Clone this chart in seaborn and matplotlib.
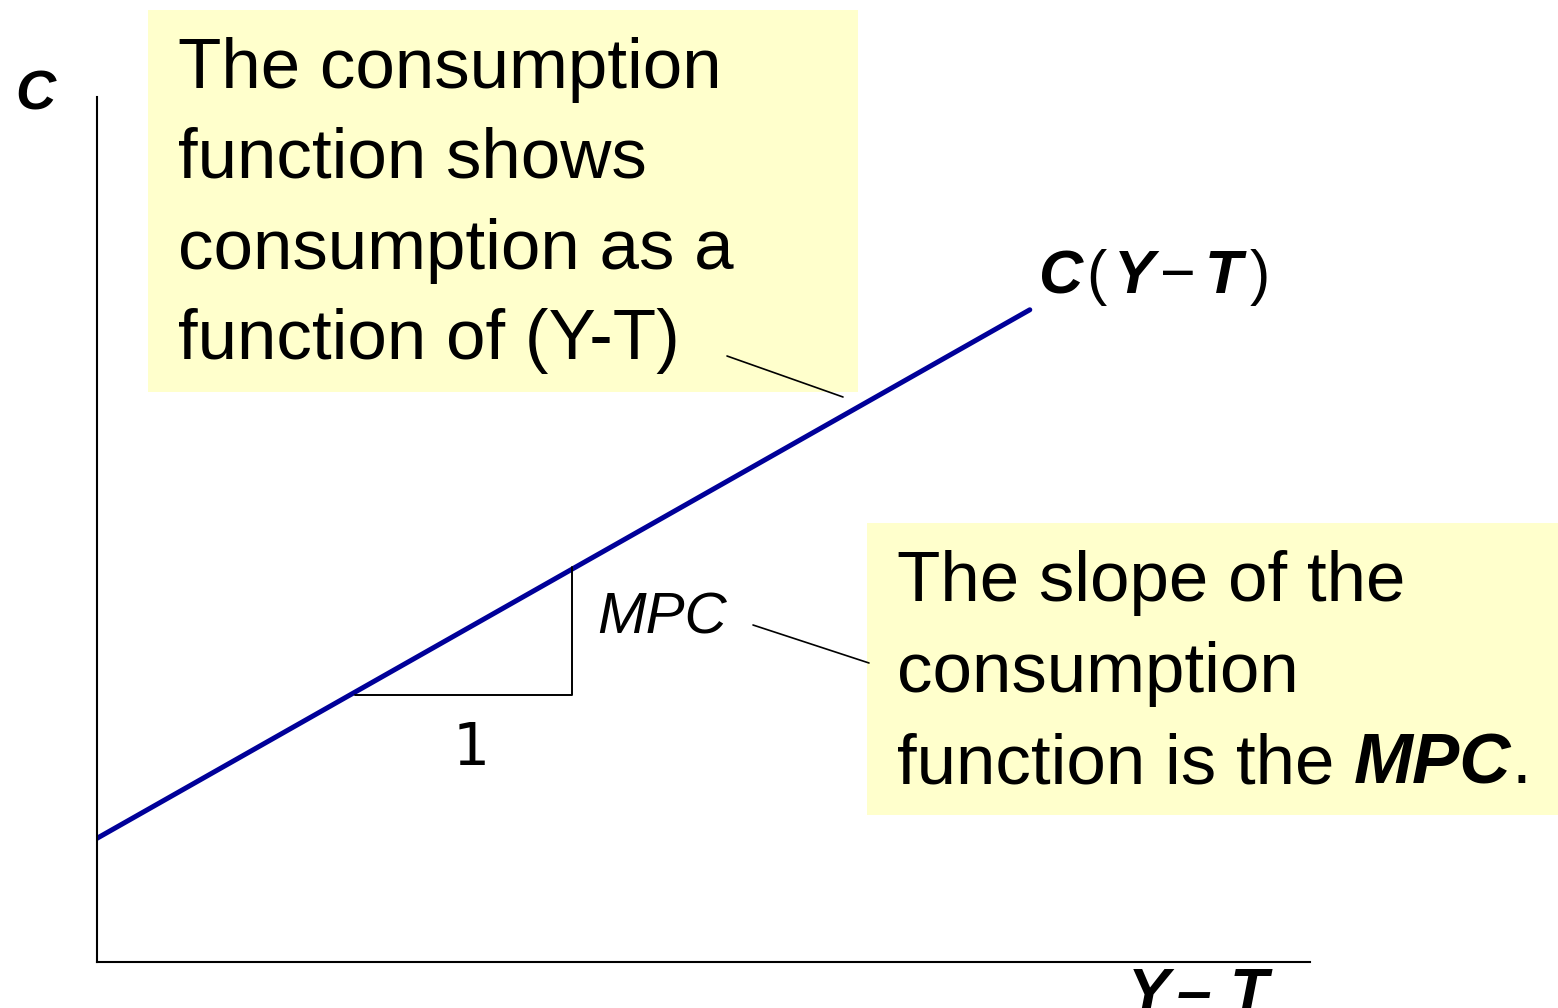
import numpy as np
import pandas as pd
import matplotlib
matplotlib.use("Agg")
import matplotlib.pyplot as plt
from matplotlib.patches import Rectangle
from matplotlib.lines import Line2D
import seaborn as sns

# Consumption function C(Y-T): two end points
disposable_income = [0.0, 7.69]
consumption = [1.43, 7.54]

# MPC triangle (run of 1, rise of MPC)
tri_x = [2.13, 3.92, 3.92]
tri_y = [3.09, 3.09, 4.57]

box1_lines = ["The consumption", "function shows", "consumption as a", "function of (Y-T)"]
box2_lines = ["The slope of the", "consumption", "function is the "]

W, H = 1558, 1008


def fx(x):
    return x / W


def fy(y):
    return 1 - y / H


sns.set_style("white")
plt.rcParams["font.family"] = ["Liberation Sans", "DejaVu Sans"]
plt.rcParams["text.color"] = "black"

fig = plt.figure(figsize=(W / 100, H / 100), dpi=100)
ax = fig.add_axes([fx(97), fy(962), (1310 - 97) / W, (962 - 97) / H])

df = pd.DataFrame({"yd": disposable_income, "c": consumption})
sns.lineplot(data=df, x="yd", y="c", ax=ax, color="#000099", linewidth=3.6)
ax.plot(tri_x, tri_y, color="black", linewidth=1.4)

ax.set_xlim(0, 10)
ax.set_ylim(0, 10)
ax.set_xticks([])
ax.set_yticks([])
ax.set_xlabel("")
ax.set_ylabel("")
for s in ["top", "right"]:
    ax.spines[s].set_visible(False)
for s in ["left", "bottom"]:
    ax.spines[s].set_color("black")
    ax.spines[s].set_linewidth(1.5)

# yellow callout boxes
fig.patches.append(Rectangle((fx(148), fy(392)), (858 - 148) / W, (392 - 10) / H,
                             transform=fig.transFigure, facecolor="#FFFFCC",
                             edgecolor="none", zorder=0))
fig.patches.append(Rectangle((fx(867), fy(815)), (1558 - 867) / W, (815 - 523) / H,
                             transform=fig.transFigure, facecolor="#FFFFCC",
                             edgecolor="none", zorder=0))

# leader lines
fig.add_artist(Line2D([fx(727), fx(843)], [fy(356), fy(397)], color="black", linewidth=1.2))
fig.add_artist(Line2D([fx(753), fx(869)], [fy(625), fy(663)], color="black", linewidth=1.2))

fs_box = 51
for line, base in zip(box1_lines, [88, 178, 269, 359]):
    fig.text(fx(178), fy(base), line, fontsize=fs_box, va="baseline", ha="left")

t_last = None
for line, base in zip(box2_lines, [601, 692, 783]):
    t_last = fig.text(fx(897), fy(base), line, fontsize=fs_box, va="baseline", ha="left")
t_mpc = fig.text(0, 0, "MPC", fontsize=fs_box, fontweight="bold", fontstyle="italic",
                 va="bottom", ha="left")
fig.canvas.draw()
r = fig.canvas.get_renderer()
bb = t_last.get_window_extent(r)
t_mpc.set_position((bb.x1 / W, bb.y0 / H))
bb2 = t_mpc.get_window_extent(r)
fig.text(bb2.x1 / W, bb2.y0 / H, ".", fontsize=fs_box, va="bottom", ha="left")

# triangle labels
fig.text(fx(597), fy(634), "MPC", fontsize=42, fontstyle="italic", va="baseline")
fig.text(fx(471), fy(765), "1", fontsize=42, family="DejaVu Sans", va="baseline", ha="center")

# axis labels
fig.text(fx(15), fy(109), "C", fontsize=40, fontweight="bold", fontstyle="italic", va="baseline")

curve_parts = [("C", 1038, True), ("(", 1086, False), ("Y", 1114, True),
               ("\u2212", 1160, False), ("T", 1205, True), (")", 1250, False)]
for txt, x0, bi in curve_parts:
    if bi:
        fig.text(fx(x0), fy(293), txt, fontsize=44, fontweight="bold",
                 fontstyle="italic", va="baseline")
    else:
        fig.text(fx(x0), fy(293), txt, fontsize=44, va="baseline")

# x-axis label sits partly below the figure edge, as in the original slide
xlab_parts = [("Y", 1128), ("\u2013", 1177), ("T", 1230)]
for txt, x0 in xlab_parts:
    fig.text(fx(x0), fy(1012), txt, fontsize=45, fontweight="bold",
             fontstyle="italic", va="baseline")

fig.savefig("out.png", dpi=100)
